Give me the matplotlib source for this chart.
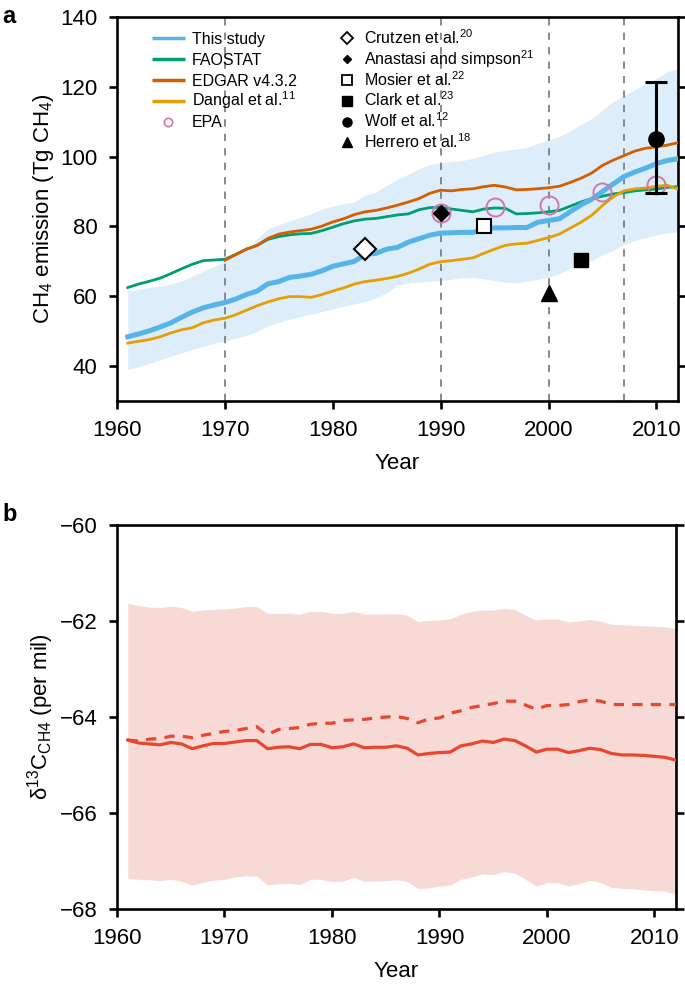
"""
CH4 emission (panel a) and delta13C of CH4 (panel b), 1961-2012.
"""
import numpy as np
import matplotlib
matplotlib.use('Agg')
import matplotlib.pyplot as plt

plt.rcParams['font.family'] = ['Liberation Sans', 'DejaVu Sans']
plt.rcParams['mathtext.fontset'] = 'custom'
plt.rcParams['mathtext.rm'] = 'Liberation Sans'
plt.rcParams['mathtext.it'] = 'Liberation Sans:italic'
plt.rcParams['mathtext.bf'] = 'Liberation Sans:bold'

years = list(range(1961, 2013))
years_edgar = list(range(1970, 2013))

# panel a, Tg CH4
this_study = [48.4, 49.2, 50.1, 51.2, 52.4, 54.0, 55.5, 56.7, 57.5, 58.2,
              59.2, 60.5, 61.5, 63.6, 64.2, 65.4, 65.8, 66.3, 67.3, 68.6,
              69.3, 70.0, 72.0, 72.3, 73.5, 74.0, 75.5, 76.5, 77.5, 78.1,
              78.2, 78.3, 78.3, 79.2, 79.6, 79.6, 79.7, 79.7, 81.2, 81.7,
              82.2, 84.2, 86.2, 87.8, 90.0, 92.2, 94.3, 95.6, 96.7, 98.0,
              98.9, 99.4]
this_hi = [61.5, 62.0, 62.5, 63.0, 63.5, 64.4, 65.8, 67.2, 68.5, 70.0,
           71.5, 73.5, 76.5, 79.3, 80.5, 81.6, 82.6, 83.6, 85.0, 85.8,
           86.5, 87.0, 89.0, 89.8, 91.8, 93.5, 95.0, 96.5, 97.8, 98.3,
           98.6, 98.9, 99.5, 100.4, 101.3, 101.8, 102.2, 102.6, 103.8, 104.8,
           105.8, 107.4, 109.2, 110.9, 113.5, 115.8, 117.5, 119.2, 120.8, 122.5,
           124.3, 125.3]
this_lo = [39.0, 39.8, 40.8, 41.8, 42.8, 43.8, 44.8, 45.7, 46.5, 47.2,
           48.0, 48.8, 50.0, 51.5, 52.5, 53.4, 54.2, 54.9, 55.6, 56.4,
           57.2, 57.8, 58.5, 59.5, 61.0, 63.2, 63.8, 64.1, 64.3, 64.5,
           64.9, 65.3, 65.4, 65.0, 64.5, 64.0, 63.9, 64.3, 64.9, 65.4,
           66.5, 68.0, 69.4, 70.3, 71.8, 73.2, 74.8, 76.0, 76.8, 77.6,
           78.2, 78.5]
faostat = [62.5, 63.5, 64.3, 65.2, 66.5, 67.9, 69.2, 70.2, 70.4, 70.6,
           72.0, 73.5, 74.6, 76.3, 77.1, 77.6, 77.9, 78.0, 78.8, 79.8,
           80.8, 81.6, 82.1, 82.3, 82.8, 83.3, 83.6, 84.8, 85.4, 85.5,
           85.0, 84.6, 84.2, 85.0, 85.3, 85.2, 83.6, 83.7, 83.9, 84.2,
           84.6, 85.8, 87.0, 88.0, 88.7, 89.3, 89.7, 90.2, 90.5, 90.7,
           91.2, 91.4]
edgar = [70.3, 71.9, 73.5, 74.6, 76.6, 77.8, 78.4, 78.8, 79.2, 80.1,
         81.3, 82.2, 83.4, 84.2, 84.6, 85.3, 86.1, 87.0, 88.0, 89.5,
         90.4, 90.2, 90.6, 90.8, 91.4, 91.8, 91.3, 90.5, 90.6, 90.8,
         91.1, 91.5, 92.6, 93.8, 95.3, 97.5, 99.0, 100.3, 101.6, 102.4,
         102.8, 103.3, 104.0]
dangal = [46.6, 47.1, 47.6, 48.4, 49.5, 50.4, 51.0, 52.4, 53.2, 53.7,
          54.7, 56.0, 57.3, 58.4, 59.3, 59.9, 59.9, 59.7, 60.5, 61.5,
          62.4, 63.5, 64.2, 64.6, 65.1, 65.7, 66.6, 67.8, 69.2, 69.9,
          70.2, 70.6, 71.0, 72.3, 73.5, 74.6, 75.0, 75.2, 76.0, 76.8,
          77.8, 79.5, 81.2, 83.2, 86.0, 88.5, 90.2, 90.8, 91.0, 91.5,
          91.8, 90.7]
epa_years = [1990, 1995, 2000, 2005, 2010]
epa = [84.0, 85.5, 86.2, 90.0, 91.8]

# single estimates from the literature
crutzen = (1983, 73.5)
anastasi = (1990, 84.0)
mosier = (1994, 80.0)
clark = (2003, 70.5)
wolf = (2010, 105.0)
wolf_range = (89.5, 121.5)
herrero = (2000, 61.0)

vlines = [1970, 1990, 2000, 2007]

# panel b, per mil
d13c = [-64.48, -64.54, -64.56, -64.58, -64.53, -64.56, -64.66, -64.60, -64.55, -64.55,
        -64.52, -64.49, -64.49, -64.66, -64.63, -64.62, -64.66, -64.57, -64.57, -64.64,
        -64.62, -64.56, -64.64, -64.63, -64.63, -64.60, -64.65, -64.79, -64.76, -64.74,
        -64.73, -64.60, -64.56, -64.50, -64.53, -64.46, -64.49, -64.60, -64.73, -64.67,
        -64.67, -64.74, -64.70, -64.65, -64.68, -64.76, -64.79, -64.79, -64.80, -64.82,
        -64.84, -64.90]
d13c_dash = [-64.48, -64.50, -64.46, -64.45, -64.40, -64.40, -64.43, -64.38, -64.34, -64.30,
             -64.28, -64.24, -64.20, -64.37, -64.26, -64.24, -64.22, -64.15, -64.13, -64.13,
             -64.07, -64.06, -64.05, -64.02, -64.00, -63.99, -64.03, -64.12, -64.04, -64.02,
             -63.92, -63.87, -63.80, -63.76, -63.72, -63.67, -63.67, -63.75, -63.84, -63.76,
             -63.76, -63.74, -63.68, -63.64, -63.67, -63.74, -63.74, -63.74, -63.74, -63.74,
             -63.74, -63.74]
d13c_hi = [-61.63, -61.68, -61.71, -61.72, -61.69, -61.72, -61.80, -61.77, -61.76, -61.75,
           -61.73, -61.70, -61.70, -61.84, -61.84, -61.84, -61.86, -61.80, -61.80, -61.84,
           -61.84, -61.80, -61.85, -61.86, -61.85, -61.85, -61.88, -62.01, -61.99, -61.98,
           -61.95, -61.86, -61.80, -61.77, -61.77, -61.74, -61.76, -61.88, -61.98, -61.96,
           -61.96, -62.02, -62.00, -61.97, -62.00, -62.07, -62.08, -62.09, -62.10, -62.11,
           -62.12, -62.16]
d13c_lo = [-67.36, -67.38, -67.39, -67.41, -67.38, -67.42, -67.50, -67.44, -67.40, -67.38,
           -67.33, -67.31, -67.31, -67.50, -67.47, -67.46, -67.49, -67.38, -67.38, -67.43,
           -67.42, -67.34, -67.42, -67.42, -67.41, -67.39, -67.43, -67.57, -67.56, -67.52,
           -67.50, -67.38, -67.33, -67.27, -67.28, -67.22, -67.25, -67.38, -67.52, -67.45,
           -67.45, -67.52, -67.47, -67.40, -67.45, -67.55, -67.57, -67.58, -67.60, -67.62,
           -67.63, -67.68]

c_blue = '#56B4E9'
c_band = '#DDEEFA'
c_green = '#009E73'
c_orange = '#D55E00'
c_yellow = '#E69F00'
c_pink = '#CC79A7'
c_red = '#E8462E'
c_redband = '#F7DAD5'

fig = plt.figure(figsize=(6.85, 9.96), dpi=100)
ax1 = fig.add_axes([0.1708, 0.5974, 0.8190, 0.3855])
ax2 = fig.add_axes([0.1708, 0.0873, 0.8160, 0.3856])


def style_axes(ax):
    for sp in ax.spines.values():
        sp.set_linewidth(1.9)
    ax.tick_params(direction='out', length=6, width=1.9, labelsize=16,
                   right=True, top=False, pad=8)
    ax.set_xlim(1960, 2012)
    ax.set_xticks([1960, 1970, 1980, 1990, 2000, 2010])
    ax.set_xlabel('Year', fontsize=16, labelpad=8)


# ---- panel a
ax1.fill_between(years, this_lo, this_hi, color=c_band, lw=0, zorder=1)
for x in vlines:
    ax1.axvline(x, color='#808080', lw=1.3, ls=(0, (4, 4)), zorder=2)
ax1.plot(years, faostat, color=c_green, lw=2.0, zorder=3)
ax1.plot(years_edgar, edgar, color=c_orange, lw=2.0, zorder=3)
ax1.plot(years, dangal, color=c_yellow, lw=2.0, zorder=3)
ax1.plot(years, this_study, color=c_blue, lw=3.6, zorder=4)
ax1.plot(epa_years, epa, 'o', ms=13, mfc='none', mec=c_pink, mew=1.4, zorder=5)
ax1.plot(*crutzen, 'D', ms=11, mfc='white', mec='black', mew=1.5, zorder=6)
ax1.plot(*anastasi, 'D', ms=8, mfc='black', mec='black', zorder=6)
ax1.plot(*mosier, 's', ms=10, mfc='white', mec='black', mew=1.5, zorder=6)
ax1.plot(*clark, 's', ms=10, mfc='black', mec='black', zorder=6)
ax1.plot(*herrero, '^', ms=12, mfc='black', mec='black', zorder=6)
ax1.errorbar(wolf[0], wolf[1],
             yerr=[[wolf[1] - wolf_range[0]], [wolf_range[1] - wolf[1]]],
             fmt='o', ms=11, color='black', elinewidth=2.2, capsize=8,
             capthick=2.2, zorder=7)
ax1.set_ylim(30, 140)
ax1.set_yticks([40, 60, 80, 100, 120, 140])
ax1.set_ylabel('CH$_4$ emission (Tg CH$_4$)', fontsize=16, labelpad=3)
style_axes(ax1)

# legend drawn by hand so that every row has the same spacing
row0 = 0.9453   # axes fraction of first row centre
drow = 0.0544
base = 0.0149   # centre of capitals to baseline
left_entries = [
    ('This study', dict(color=c_blue, lw=2.5)),
    ('FAOSTAT', dict(color=c_green, lw=2.5)),
    ('EDGAR v4.3.2', dict(color=c_orange, lw=2.5)),
    ('Dangal et al.$^{11}$', dict(color=c_yellow, lw=2.5)),
    ('EPA', dict(ls='none', marker='o', ms=6, mfc='none', mec=c_pink, mew=1.2)),
]
for i, (label, kw) in enumerate(left_entries):
    y = row0 - i * drow
    if kw.get('ls') == 'none':
        ax1.plot([0.0918], [y], transform=ax1.transAxes, clip_on=False, **kw)
    else:
        ax1.plot([0.0624, 0.1212], [y, y], transform=ax1.transAxes,
                 clip_on=False, solid_capstyle='butt', **kw)
    ax1.text(0.1337, y - base, label, transform=ax1.transAxes,
             fontsize=11.5, va='baseline', ha='left')

right_entries = [
    ('Crutzen et al.$^{20}$', dict(marker='D', ms=6.5, mfc='white', mec='black', mew=1.3)),
    ('Anastasi and simpson$^{21}$', dict(marker='D', ms=4.5, mfc='black', mec='black')),
    ('Mosier et al.$^{22}$', dict(marker='s', ms=6.5, mfc='white', mec='black', mew=1.3)),
    ('Clark et al.$^{23}$', dict(marker='s', ms=6.5, mfc='black', mec='black')),
    ('Wolf et al.$^{12}$', dict(marker='o', ms=6.5, mfc='black', mec='black')),
    ('Herrero et al.$^{18}$', dict(marker='^', ms=7.5, mfc='black', mec='black')),
]
for i, (label, kw) in enumerate(right_entries):
    y = row0 - i * drow
    ax1.plot([0.410], [y], ls='none', transform=ax1.transAxes, clip_on=False, **kw)
    ax1.text(0.4403, y - base, label, transform=ax1.transAxes,
             fontsize=11.5, va='baseline', ha='left')

# ---- panel b
ax2.fill_between(years, d13c_lo, d13c_hi, color=c_redband, lw=0, zorder=1)
ax2.plot(years, d13c_dash, color=c_red, lw=2.3, ls=(0, (3.2, 2.6)), zorder=3)
ax2.plot(years, d13c, color=c_red, lw=2.3, zorder=3)
ax2.set_ylim(-68, -60)
ax2.set_yticks([-68, -66, -64, -62, -60])
ax2.set_yticklabels(['\u221268', '\u221266', '\u221264', '\u221262', '\u221260'])
ax2.set_ylabel('\u03b4$^{13}$C$_{\\rm CH4}$ (per mil)', fontsize=16, labelpad=3)
style_axes(ax2)

fig.text(0.004, 0.983, 'a', fontsize=17, fontweight='bold', va='center')
fig.text(0.004, 0.483, 'b', fontsize=17, fontweight='bold', va='center')

fig.savefig('out.png', dpi=100)
